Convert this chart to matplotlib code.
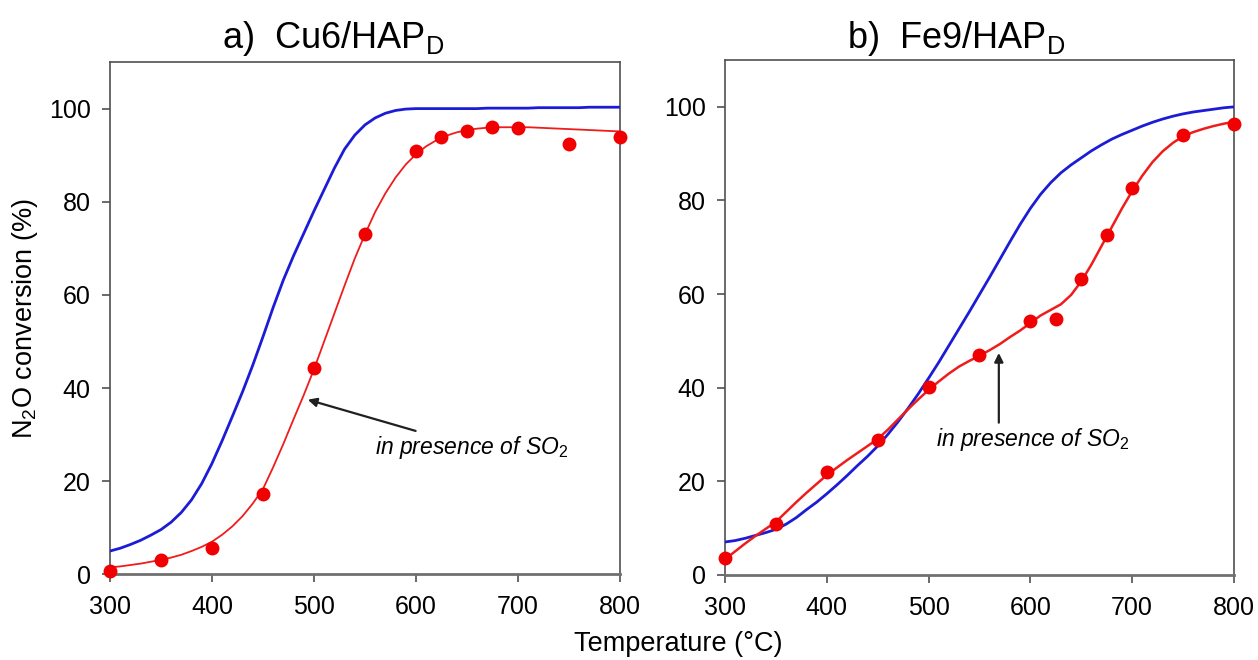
import matplotlib.pyplot as plt

plt.rcParams['font.family'] = ['Liberation Sans', 'DejaVu Sans']
plt.rcParams['mathtext.fontset'] = 'custom'
plt.rcParams['mathtext.rm'] = 'Liberation Sans'
plt.rcParams['mathtext.it'] = 'Liberation Sans:italic'

# temperatures (°C) of the model curves, every 10 degrees from 300 to 800
t_line = list(range(300, 801, 10))
# temperatures of the measured points
t_pts = [300, 350, 400, 450, 500, 550, 600, 625, 650, 675, 700, 750, 800]

# a) Cu6/HAP_D
cu_blue = [5.0, 5.6, 6.4, 7.3, 8.4, 9.6, 11.2, 13.3, 16.0, 19.5,
           23.8, 28.7, 33.9, 39.2, 44.9, 51.0, 57.3, 63.2, 68.4, 73.2,
           78.0, 82.6, 87.2, 91.3, 94.3, 96.5, 98.0, 99.0, 99.6, 99.9,
           100.0, 100.0, 100.0, 100.0, 100.0, 100.0, 100.0, 100.1, 100.1, 100.1,
           100.1, 100.1, 100.2, 100.2, 100.2, 100.2, 100.2, 100.3, 100.3, 100.3,
           100.3]
cu_red = [1.5, 1.7, 2.0, 2.3, 2.7, 3.1, 3.6, 4.2, 5.0, 5.9,
          7.0, 8.5, 10.3, 12.5, 15.2, 18.3, 23.0, 28.0, 33.3, 38.5,
          44.0, 50.0, 56.0, 62.0, 67.8, 73.0, 77.8, 81.8, 85.2, 88.0,
          90.2, 91.9, 93.2, 94.2, 94.9, 95.4, 95.7, 95.9, 96.0, 96.0,
          96.0, 96.0, 95.9, 95.8, 95.7, 95.6, 95.5, 95.4, 95.3, 95.2,
          95.1]
cu_pts = [0.8, 3.1, 5.6, 17.2, 44.4, 73, 91, 94, 95.2, 96, 95.8, 92.3, 94]

# b) Fe9/HAP_D
fe_blue = [7.0, 7.3, 7.8, 8.4, 9.0, 9.7, 10.8, 12.2, 13.9, 15.5,
           17.3, 19.2, 21.2, 23.3, 25.3, 27.5, 30.0, 32.7, 35.6, 38.7,
           42.0, 45.4, 49.0, 52.6, 56.2, 59.9, 63.6, 67.4, 71.2, 74.9,
           78.3, 81.3, 83.8, 85.9, 87.6, 89.1, 90.6, 91.9, 93.1, 94.1,
           95.0, 95.9, 96.7, 97.4, 98.0, 98.5, 98.9, 99.2, 99.5, 99.8,
           100.0]
fe_red = [3.3, 5.0, 6.7, 8.3, 9.8, 11.3, 13.4, 15.5, 17.5, 19.4,
          21.3, 22.9, 24.5, 26.0, 27.5, 29.0, 31.0, 33.2, 35.4, 37.5,
          39.5, 41.3, 43.0, 44.5, 45.7, 46.8, 48.0, 49.3, 50.8, 52.2,
          53.8, 55.4, 56.6, 57.8, 59.8, 62.7, 66.3, 70.3, 74.3, 78.3,
          82.0, 85.3, 88.2, 90.5, 92.3, 93.7, 94.6, 95.3, 95.9, 96.4,
          96.8]
fe_pts = [3.6, 10.9, 21.9, 28.7, 40.2, 46.9, 54.2, 54.6, 63.1, 72.6, 82.7, 93.9, 96.3]

x_ticks = [300, 400, 500, 600, 700, 800]
y_ticks = [0, 20, 40, 60, 80, 100]

fig = plt.figure(figsize=(12.58, 6.6), dpi=100)
ax_a = fig.add_axes([0.0874, 0.1298, 0.4054, 0.7762])
ax_b = fig.add_axes([0.5763, 0.1292, 0.4046, 0.7798])

panels = [
    (ax_a, cu_blue, cu_red, cu_pts, 1.3),
    (ax_b, fe_blue, fe_red, fe_pts, 1.8),
]
for ax, blue, red, pts, red_lw in panels:
    ax.plot(t_line, blue, color='#1c1cd6', lw=2.0, zorder=3)
    ax.plot(t_line, red, color='#f01c1c', lw=red_lw, zorder=3)
    ax.plot(t_pts, pts, 'o', color='#f00000', ms=10, mec='none', zorder=4, clip_on=False)
    ax.set_xlim(300, 800)
    ax.set_ylim(0, 110)
    ax.set_xticks(x_ticks)
    ax.set_yticks(y_ticks)
    ax.tick_params(direction='out', length=6, width=1.2, color='#505050',
                   labelsize=18)
    ax.tick_params(axis='x', pad=9)
    ax.tick_params(axis='y', pad=8)
    for s in ax.spines.values():
        s.set_color('#505050')
        s.set_linewidth(1.2)
    ax.spines['bottom'].set_linewidth(2)
    ax.spines['bottom'].set_color('#707070')

ax_a.set_ylabel('N$_2$O conversion (%)', fontsize=19.5, labelpad=6)

fig.text(0.265, 0.927, 'a)  Cu6/HAP$_\\mathregular{D}$', fontsize=26,
         ha='center', va='baseline')
fig.text(0.760, 0.927, 'b)  Fe9/HAP$_\\mathregular{D}$', fontsize=26,
         ha='center', va='baseline')
fig.text(0.539, 0.014, 'Temperature (°C)', fontsize=19.5, ha='center', va='baseline')

ax_a.annotate('in presence of SO$_2$', xy=(494, 37.5), xytext=(560, 27.3),
              fontsize=16.5, style='italic', va='center', ha='left',
              arrowprops=dict(arrowstyle='-|>', color='#202020', lw=1.6,
                              shrinkA=0, shrinkB=0, mutation_scale=13))
ax_b.annotate('', xy=(569, 47.4), xytext=(569, 32.5),
              arrowprops=dict(arrowstyle='-|>', color='#202020', lw=1.6,
                              shrinkA=0, shrinkB=0, mutation_scale=13))
ax_b.text(507, 29, 'in presence of SO$_2$', fontsize=16.5, style='italic',
          va='center', ha='left')

fig.savefig('out.png', dpi=100)
